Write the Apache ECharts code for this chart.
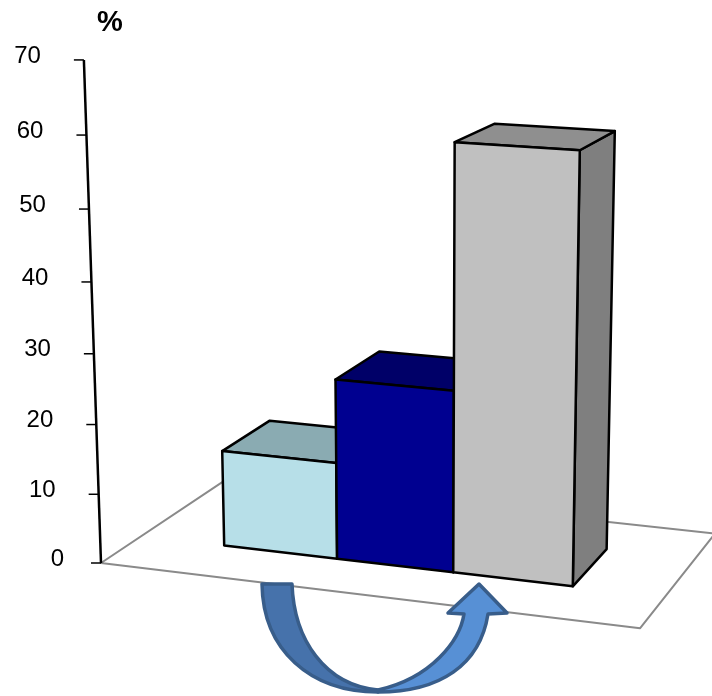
<!DOCTYPE html>
<html>
<head>
<meta charset="utf-8">
<script src="https://cdn.jsdelivr.net/npm/echarts@6/dist/echarts.min.js"></script>
<style>
  html, body { margin: 0; padding: 0; background: #ffffff; }
  #chart { width: 712px; height: 696px; }
</style>
</head>
<body>
<div id="chart"></div>
<script>
// ---- data ----
const categories = ['Group A', 'Group B', 'Group C'];
const shares = [14, 26, 60];
const yTicks = [0, 10, 20, 30, 40, 50, 60, 70];
const unitLabel = '%';

// ---- styles ----
const barFront = ['#b7dfe8', '#000090', '#c0c0c0'];
const barTop = ['#8aabb2', '#000068', '#8f8f8f'];
const barSide = ['#7c9ca3', '#00005a', '#7f7f7f'];
const FONT_FAMILY = 'Liberation Sans';

// ---- perspective camera (three vanishing points) ----
// world X: floor width units, Y: value units, Z: floor depth units
const ORIGIN = [101, 563];
const VP_X = [-7719, -383], K_X = -0.0645;
const VP_Y = [422, 10000], K_Y = -0.000723;
const VP_Z = [1351, -271], K_Z = 0.110;

function project(X, Y, Z) {
  const a = K_X * X, b = K_Y * Y, c = K_Z * Z;
  const d = 1 + a + b + c;
  return [
    (ORIGIN[0] + a * VP_X[0] + b * VP_Y[0] + c * VP_Z[0]) / d,
    (ORIGIN[1] + a * VP_X[1] + b * VP_Y[1] + c * VP_Z[1]) / d
  ];
}

// bars occupy the middle two thirds of the floor, set back in depth
const BAR_X0 = 1 / 6, BAR_SPAN = 2 / 3;
const BAR_Z0 = 0.305, BAR_Z1 = 0.71;
const Y_MAX = yTicks[yTicks.length - 1];

// flat cartesian position -> world value height
function worldY(api, cs, v) {
  const p = api.coord([0, v]);
  return (cs.y + cs.height - p[1]) / cs.height * Y_MAX;
}

// curved turn arrow below the floor
const ARROW_BACK = 'M262,584 L292,584 C294,640 325,685 378,690 L378,692 C310,692 263,650 262,584 Z';
const ARROW_FRONT = 'M378,692 C440,692 480,665 488,614 L507,613 L479,584 L448,613 L464,614 C460,640 432,678 378,690 Z';

const chart = echarts.init(document.getElementById('chart'), null, { renderer: 'canvas' });

const option = {
  animation: false,
  backgroundColor: '#ffffff',
  grid: { left: 100, right: 100, top: 60, bottom: 130 },
  xAxis: { type: 'category', data: categories, show: false },
  yAxis: { type: 'value', min: 0, max: Y_MAX, interval: 10, show: false },
  graphic: [
    {
      type: 'text', z: 100, left: 97, top: 8,
      style: { text: unitLabel, fontSize: 29, fontWeight: 'bold', fontFamily: FONT_FAMILY, fill: '#000' }
    }
  ],
  series: [
    {
      // floor plane and vertical value axis
      type: 'custom',
      z: 1,
      data: [[0, 0]],
      renderItem: function (params, api) {
        const cs = params.coordSys;
        const floor = [project(0, 0, 0), project(1, 0, 0), project(1, 0, 1), project(0, 0, 1)];
        const top = project(0, worldY(api, cs, Y_MAX), 0);
        return {
          type: 'group',
          children: [
            { type: 'polygon', shape: { points: floor }, style: { fill: '#ffffff', stroke: '#8a8a8a', lineWidth: 2, lineJoin: 'round' } },
            { type: 'line', shape: { x1: floor[0][0], y1: floor[0][1], x2: top[0], y2: top[1] }, style: { stroke: '#000000', lineWidth: 2.5 } }
          ]
        };
      }
    },
    {
      // value ticks and labels
      type: 'custom',
      z: 2,
      data: yTicks.map(v => [0, v]),
      renderItem: function (params, api) {
        const cs = params.coordSys;
        const v = api.value(1);
        const p = project(0, worldY(api, cs, v), 0);
        const shift = v === 0 ? 6 : 0;
        return {
          type: 'group',
          children: [
            { type: 'line', shape: { x1: p[0] - 10, y1: p[1], x2: p[0], y2: p[1] }, style: { stroke: '#000000', lineWidth: 1.5 } },
            {
              type: 'text',
              style: {
                text: String(v), x: p[0] - 43 + shift, y: p[1] - 4,
                fontSize: 24, fontFamily: FONT_FAMILY, fill: '#000000',
                align: 'right', verticalAlign: 'middle'
              }
            }
          ]
        };
      }
    },
    {
      // 3D bars: right side, top, then front face
      type: 'custom',
      z: 3,
      data: shares.map((v, i) => [i, v]),
      renderItem: function (params, api) {
        const cs = params.coordSys;
        const i = api.value(0);
        const v = api.value(1);
        const c = api.coord([i, v]);
        const band = api.size([1, 0])[0];
        const f0 = (c[0] - band / 2 - cs.x) / cs.width;
        const f1 = (c[0] + band / 2 - cs.x) / cs.width;
        const x0 = BAR_X0 + f0 * BAR_SPAN;
        const x1 = BAR_X0 + f1 * BAR_SPAN;
        const h = worldY(api, cs, v);
        const z0 = BAR_Z0, z1 = BAR_Z1;
        const edge = { stroke: '#000000', lineWidth: 2.5, lineJoin: 'round' };
        const side = [project(x1, 0, z0), project(x1, 0, z1), project(x1, h, z1), project(x1, h, z0)];
        const topFace = [project(x0, h, z0), project(x1, h, z0), project(x1, h, z1), project(x0, h, z1)];
        const front = [project(x0, 0, z0), project(x1, 0, z0), project(x1, h, z0), project(x0, h, z0)];
        return {
          type: 'group',
          children: [
            { type: 'polygon', shape: { points: side }, style: Object.assign({ fill: barSide[i] }, edge) },
            { type: 'polygon', shape: { points: topFace }, style: Object.assign({ fill: barTop[i] }, edge) },
            { type: 'polygon', shape: { points: front }, style: Object.assign({ fill: barFront[i] }, edge) }
          ]
        };
      }
    },
    {
      // decorative arrow drawn above everything
      type: 'custom',
      z: 10,
      silent: true,
      data: [[0, 0]],
      renderItem: function () {
        return {
          type: 'group',
          children: [
            { type: 'path', shape: { pathData: ARROW_BACK }, style: { fill: '#4672ab', stroke: '#385d8a', lineWidth: 3.5, lineJoin: 'round' } },
            { type: 'path', shape: { pathData: ARROW_FRONT }, style: { fill: '#5790d5', stroke: '#385d8a', lineWidth: 3.5, lineJoin: 'round' } }
          ]
        };
      }
    }
  ]
};

chart.setOption(option);
</script>
</body>
</html>
